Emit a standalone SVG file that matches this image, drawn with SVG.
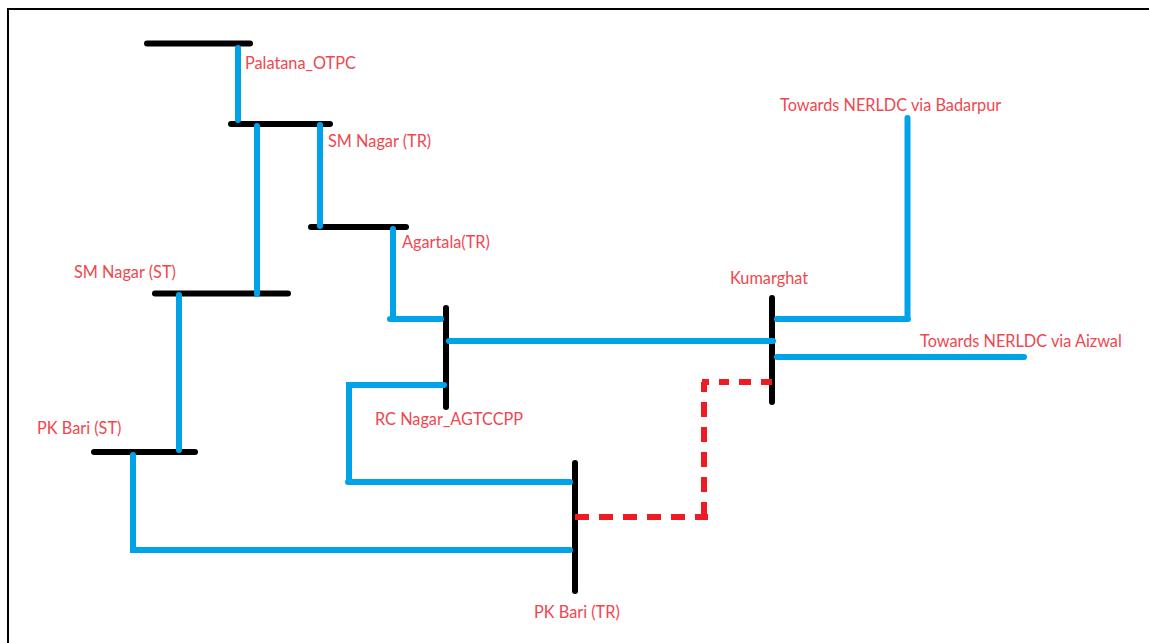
<svg xmlns="http://www.w3.org/2000/svg" width="1149" height="643" viewBox="0 0 1149 643">
<style>
.bus{stroke:#000;stroke-width:6;stroke-linecap:round;fill:none}
.line{stroke:#00a2e8;stroke-width:6;fill:none;stroke-linecap:round;stroke-linejoin:miter}
.tie{stroke:#ed1c24;stroke-width:6;fill:none}
text{font-family:"Lato","Open Sans","Liberation Sans",sans-serif;font-size:16.3px;fill:#f0474f}
</style>
<rect width="1149" height="643" fill="#fff"/>
<path d="M8 643V9H1149" fill="none" stroke="#000" stroke-width="2"/>
<g id="palatana"><path class="bus" d="M147 43.500H250"/><text x="245" y="69">Palatana_OTPC</text></g>
<g id="sm-nagar-tr"><path class="bus" d="M231 124H330"/><text x="328" y="147">SM Nagar (TR)</text></g>
<g id="agartala"><path class="bus" d="M311 227H406"/><text x="402" y="248">Agartala(TR)</text></g>
<g id="sm-nagar-st"><path class="bus" d="M155 293.500H288"/><text x="74" y="278">SM Nagar (ST)</text></g>
<g id="pk-bari-st"><path class="bus" d="M94 452H195"/><text x="37" y="434">PK Bari (ST)</text></g>
<g id="rc-nagar"><path class="bus" d="M446 308V407"/><text x="375" y="425">RC Nagar_AGTCCPP</text></g>
<g id="pk-bari-tr"><path class="bus" d="M575 463V591"/><text x="534" y="618">PK Bari (TR)</text></g>
<g id="kumarghat"><path class="bus" d="M772 298V402"/><text x="730" y="284">Kumarghat</text></g>
<g id="badarpur"><text x="780" y="111">Towards NERLDC via Badarpur</text></g>
<g id="aizwal"><text x="920" y="347">Towards NERLDC via Aizwal</text></g>
<g id="connectors">
<path class="line" d="M238 48V120"/>
<path class="line" d="M257 126V294"/>
<path class="line" d="M320 125V226"/>
<path class="line" d="M393 229V319M390 319H441"/>
<path class="line" d="M179 295V450"/>
<path class="line" d="M133 455V550H570"/>
<path class="line" d="M449 341H773"/>
<path class="line" d="M444 385H349V482M348 482H570"/>
<path class="line" d="M777 319H908M907.500 319V118"/>
<path class="line" d="M777 357H1024"/>
<path class="tie" d="M575 517H708" stroke-dasharray="14 10"/>
<path class="tie" d="M704 517V382" stroke-dasharray="15 10"/>
<path class="tie" d="M702 382H772" stroke-dasharray="7 10 10 10 12 10 11"/>
</g>
</svg>
